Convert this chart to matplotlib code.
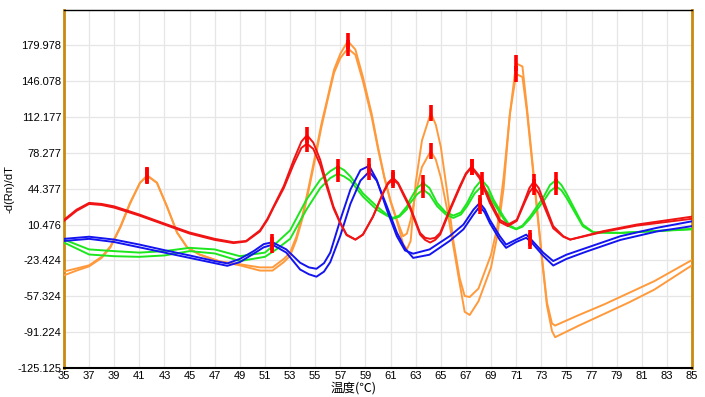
import numpy as np
import matplotlib
matplotlib.use("Agg")
import matplotlib.pyplot as plt

# melt curves, two replicates per sample (A / B)
t_orange = [35, 36, 37, 38, 38.7, 39.5, 40.25, 41.05, 41.63, 42.4, 43.2, 44.0, 44.8, 45.8, 47.4,
            49.0, 50.6, 51.6, 52.5, 53.0, 53.5, 54.0, 54.5, 55.0, 55.5, 56.0, 56.5, 57.0, 57.6,
            58.2, 58.8, 59.5, 60.0, 60.5, 61.0, 61.5, 62.0, 62.3, 62.6, 63.0, 63.5, 64.2, 64.6,
            65.0, 65.5, 66.0, 66.5, 66.9, 67.3, 68.0, 69.0, 69.5, 70.0, 70.5, 71.0, 71.5, 71.85,
            72.25, 72.65, 73.05, 73.45, 73.85, 74.1, 76, 78, 80, 82, 85]
orange_a = [-33.8, -31, -28, -20, -10, 9, 31, 50, 57, 50, 27.5, 3, -11, -17.8, -24.4,
            -27, -30, -30, -22, -16, -1, 20, 47, 76, 106, 131, 157, 172, 184,
            176, 150, 115, 84, 56, 33, 15, -0.5, 2, 15, 40, 65, 80, 72,
            55, 25, -10, -45, -72, -75, -62, -30, 0, 45, 115, 163, 160, 122,
            75, 28, -20, -63, -83, -85, -75, -65, -54, -43, -23]
orange_b = [-37.5, -33, -29, -21, -11, 8, 30, 50, 56.6, 50, 27.5, 3, -11, -18, -24.4,
            -28, -33, -33, -25, -19, -4, 17, 44, 73, 103, 129, 154, 168, 177,
            171, 146, 112, 82, 55, 32, 14, -8, -13, -5, 50, 90, 116, 105,
            84, 42, -5, -40, -57, -58, -50, -18, 8, 55, 115, 153, 150, 118,
            72, 25, -22, -66, -90, -96, -85, -74, -63, -51, -28]

t_red = [35, 36, 37, 38, 39, 41, 43, 45, 47, 48.5, 49.5, 50.6, 51.2, 51.7, 52.5, 53.3, 53.9,
         54.35, 54.85, 55.4, 55.9, 56.45, 57.0, 57.5, 58.2, 58.8, 59.6, 60.4, 60.8, 61.2, 61.6,
         62.0, 62.55, 63.35, 63.75, 64.15, 64.55, 64.95, 65.7, 66.5, 67.0, 67.45, 68.1, 68.9,
         69.7, 70.35, 71.05, 71.7, 72.05, 72.4, 72.8, 73.15, 73.95, 74.75, 75.3, 77.9, 80.6, 85]
red_a = [15, 24.6, 31, 30, 27.7, 20, 11.4, 3, -3, -6.2, -5, 5, 16, 28, 47, 72, 89,
         95, 88, 71.7, 50, 27.7, 12.3, 1, -3.7, 1, 18, 40.6, 50, 54.7, 50,
         40.6, 27.7, 2.6, -2, -3, -2, 2.6, 24.6, 46.5, 59, 65.4, 56, 34,
         15, 10.5, 15, 34, 45, 51, 45, 34, 9, -0.5, -3.7, 4.2, 10.5, 18]
red_b = [14, 23.5, 30, 29, 26.5, 19, 10.5, 2, -4, -7, -5.5, 4, 15, 27, 45, 68, 83,
         87, 82, 67, 47, 26, 11.5, 0.5, -3.7, 1, 18, 40, 49, 53, 49,
         39, 26, 1, -4, -6.5, -4, 1, 23, 45, 58, 64.5, 54, 31,
         13, 9, 14, 32, 41, 46.5, 40, 30, 7, -1, -3.7, 3.5, 9.5, 16]

t_green = [35, 37, 39, 41, 43, 45, 47, 49, 51, 51.9, 53.0, 54.3, 55.4, 56.2, 56.8, 57.3, 57.8,
           58.8, 59.9, 60.7, 61.2, 61.7, 62.3, 62.5, 63.1, 63.6, 64.1, 64.7, 65.4, 66.0, 66.6,
           67.1, 67.7, 68.25, 68.75, 69.2, 70.0, 70.5, 71.0, 71.5, 72.1, 73.2, 73.7, 74.2, 74.6,
           75.0, 76.3, 77.15, 79.3, 85]
green_a = [-3.7, -13, -14.6, -16, -14.6, -11.5, -13, -19.4, -16, -7, 5, 34, 52.8, 61, 65.4, 62, 56,
           40, 27.7, 20, 16.8, 19, 27.7, 33, 45, 49.8, 45, 31, 22, 19, 22,
           31, 45, 52.8, 46, 34, 18, 9.5, 6.5, 9.5, 18, 37, 48, 52.8, 48,
           40, 10.5, 3.2, 2.6, 6.4]
green_b = [-6.5, -17.8, -19.4, -20, -18.7, -14.6, -16.8, -24, -20, -13, -3, 24.6, 45, 54.5, 58.5, 56, 52,
           37, 24.6, 19, 16, 18, 25, 30, 39, 43.5, 39, 28, 20, 16.8, 20,
           28, 40, 46.5, 41, 31, 16, 8.5, 6, 8.5, 16, 33, 42, 46.5, 43,
           36, 9, 3, 2.6, 6]

t_blue = [35, 37, 39, 41, 43, 45, 47, 48, 49, 50.1, 50.9, 51.6, 52.7, 53.8, 54.5, 55.1, 55.7,
          56.2, 57.0, 57.8, 58.6, 59.3, 59.9, 60.7, 61.5, 62.15, 62.8, 64.1, 65.7, 66.8, 67.6,
          68.1, 68.5, 68.9, 69.7, 70.2, 71.0, 71.8, 72.2, 73.15, 73.95, 75.0, 76.6, 79.3, 82.2, 85]
blue_a = [-3, -1, -3.7, -8.4, -13.7, -18.7, -24, -26.2, -22, -14.6, -8, -6.2, -13, -25.6, -30, -31.3, -26,
          -16, 15, 43.5, 62, 66, 52.8, 24.6, -0.5, -14, -17, -13, -0.5, 10.5, 24.6,
          31, 25, 15, -0.5, -8.4, -3.7, 1, -3.7, -16, -24, -18, -11.5, -0.5, 7.4, 13.6]
blue_b = [-5, -3, -6, -11, -16, -21, -26, -28.5, -25, -17, -11, -8.5, -16, -32, -36.5, -38.8, -34,
          -25, 0, 30, 52, 60.6, 52, 28, 3, -12, -21, -18, -5, 6, 20,
          27.7, 22, 12, -4, -11.5, -6, -2, -6, -19, -28.2, -22, -15, -4, 4, 9]

# peak calls (temperatures of the red markers)
peaks_orange = [41.63, 57.6, 64.2, 71.0]
peaks_red = [54.35, 61.2, 67.45, 72.4]
peaks_green = [56.8, 63.6, 68.25, 74.2]
peaks_blue = [51.6, 59.3, 68.1, 72.1]

y_ticks = [-125.125, -91.224, -57.324, -23.424, 10.476, 44.377, 78.277, 112.177, 146.078, 179.978]
x_ticks = list(range(35, 86, 2))

series = [
    (t_orange, orange_a, orange_b, peaks_orange, "#ff9a3c"),
    (t_green, green_a, green_b, peaks_green, "#1ee61e"),
    (t_blue, blue_a, blue_b, peaks_blue, "#1414f0"),
    (t_red, red_a, red_b, peaks_red, "#f01414"),
]

plt.rcParams["font.family"] = ["Liberation Sans", "DejaVu Sans"]
fig = plt.figure(figsize=(7.05, 3.97), dpi=100)
ax = fig.add_axes([64 / 705, 1 - 368 / 397, 628 / 705, 358 / 397])

for t, a, b, pk, col in series:
    ax.plot(t, a, color=col, lw=1.4, zorder=3, solid_joinstyle="round")
    ax.plot(t, b, color=col, lw=1.4, zorder=3, solid_joinstyle="round")

for t, a, b, pk, col in series:
    for curve in (a, b):
        ax.plot(pk, np.interp(pk, t, curve), ls="none", marker="|", ms=11.5,
                mew=2.6, color="#ff0000", zorder=5)

ax.set_xlim(35, 85)
ax.set_ylim(-125.125, 213.4)
ax.set_xticks(x_ticks)
ax.set_yticks(y_ticks)
ax.set_yticklabels(["%.3f" % v for v in y_ticks])
ax.tick_params(length=0, labelsize=8, pad=2)
ax.grid(True, color="#e6e6e6", lw=0.9)
ax.set_axisbelow(True)

for s in ("left", "right"):
    ax.spines[s].set_color("#c98a10")
    ax.spines[s].set_linewidth(2)
ax.spines["top"].set_color("black")
ax.spines["top"].set_linewidth(1)
ax.spines["bottom"].set_color("black")
ax.spines["bottom"].set_linewidth(1.5)

ax.set_ylabel("-d(Rn)/dT", fontsize=8, labelpad=2)
fig.text(354 / 705, 1 - 388 / 397, "温度(℃)", ha="center", va="center", fontsize=9,
         family=["Noto Sans CJK SC", "DejaVu Sans"])

fig.savefig("out.png", dpi=100)
